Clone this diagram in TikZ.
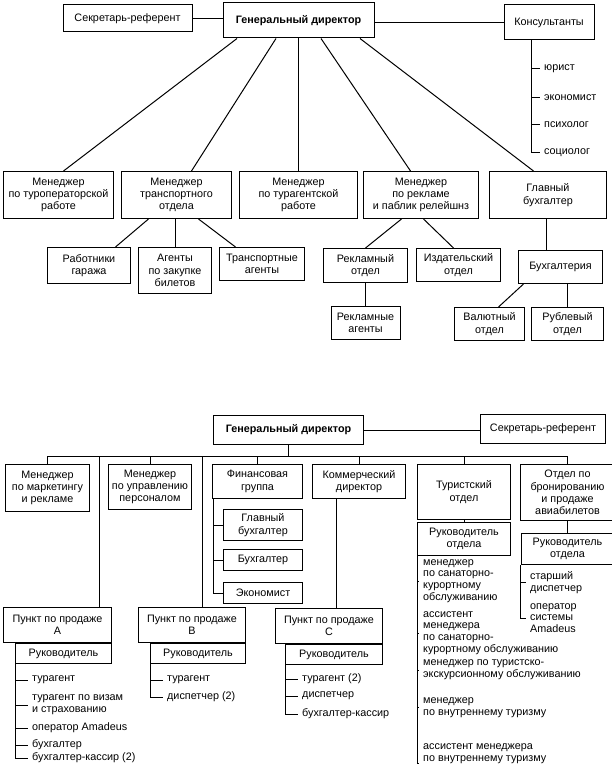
\documentclass[tikz,border=0pt]{standalone}
\usepackage{fontspec}
\setmainfont{Liberation Sans}
\usepackage{tikz}
\usetikzlibrary{positioning}

\begin{document}
\begin{tikzpicture}[x=1pt, y=-1pt,
    box/.style={draw, line width=1pt, align=center, inner sep=1pt, font=\fontsize{10.8}{12.3}\selectfont},
    head/.style={box, font=\fontsize{10.8}{12.3}\selectfont\bfseries},
    item/.style={anchor=west, align=left, inner xsep=4pt, inner ysep=0pt, font=\fontsize{10.8}{11.8}\selectfont},
    link/.style={line width=1pt}]
  \useasboundingbox (0,0) rectangle (611,770);

  \node[head, minimum width=151pt, minimum height=35pt] (gd) at (298.5,20.5) {Генеральный директор};
  \node[box, minimum width=129pt, minimum height=27pt] (sec) at (127.5,18.5) {Секретарь-референт};
  \node[box, minimum width=90pt, minimum height=35pt] (cons) at (549,22.5) {Консультанты};
  \node[item] (cons1) at (540,69) {юрист};
  \node[item] (cons2) at (540,98) {экономист};
  \node[item] (cons3) at (540,125) {психолог};
  \node[item] (cons4) at (540,153) {социолог};
  \coordinate (cl) at ([xshift=-18pt]cons.south);
  \draw[link] (sec.east) -- (sec.east -| gd.west);
  \draw[link] (cons.west) -- (cons.west -| gd.east);
  \draw[link] (cl) |- (cons4.west) (cl |- cons1.west) -- (cons1.west) (cl |- cons2.west) -- (cons2.west) (cl |- cons3.west) -- (cons3.west);

  \node[box, minimum width=110pt, minimum height=47pt, anchor=north west] (m1) at (3,171) {Менеджер\\по туроператорской\\работе};
  \node[box, minimum width=110pt, minimum height=47pt, right=7pt of m1.north east, anchor=north west] (m2) {Менеджер\\транспортного\\отдела};
  \node[box, minimum width=118pt, minimum height=47pt, right=7pt of m2.north east, anchor=north west] (m3) {Менеджер\\по турагентской\\работе};
  \node[box, minimum width=115pt, minimum height=47pt, right=5pt of m3.north east, anchor=north west] (m4) {Менеджер\\по рекламе\\и паблик релейшнз};
  \node[box, minimum width=117pt, minimum height=47pt, right=10pt of m4.north east, anchor=north west] (m5) {Главный\\бухгалтер};
  \draw[link] ([xshift=-61.5pt]gd.south) -- ([xshift=5pt]m1.north);
  \draw[link] ([xshift=-22.5pt]gd.south) -- ([xshift=15pt]m2.north);
  \draw[link] (gd.south) -- (gd.south |- m3.north);
  \draw[link] ([xshift=22.5pt]gd.south) -- ([xshift=-10.5pt]m4.north);
  \draw[link] ([xshift=61.5pt]gd.south) -- ([xshift=-14.5pt]m5.north);

  \node[box, minimum width=83pt, minimum height=36pt, anchor=north west] (garage) at (47,247) {Работники\\гаража};
  \node[box, minimum width=73pt, minimum height=46pt, right=7pt of garage.north east, anchor=north west] (tickets) {Агенты\\по закупке\\билетов};
  \node[box, minimum width=85pt, minimum height=33pt, right=7pt of tickets.north east, anchor=north west] (transp) {Транспортные\\агенты};
  \node[box, minimum width=84pt, minimum height=34pt, anchor=north west] (adv) at (323,248) {Рекламный\\отдел};
  \node[box, minimum width=84pt, minimum height=33pt, right=8pt of adv.north east, anchor=north west] (pub) {Издательский\\отдел};
  \node[box, minimum width=84pt, minimum height=33pt, anchor=north west] (acc) at (518,250) {Бухгалтерия};
  \node[box, minimum width=69pt, minimum height=33pt, below=23pt of adv] (advag) {Рекламные\\агенты};
  \node[box, minimum width=70pt, minimum height=33pt, anchor=north west] (cur) at (454,307) {Валютный\\отдел};
  \node[box, minimum width=72pt, minimum height=33pt, right=6pt of cur.north east, anchor=north west] (rub) {Рублевый\\отдел};
  \coordinate (ml) at ([xshift=-1.5pt]m5.south);
  \coordinate (al) at ([xshift=7pt]acc.south);
  \draw[link] ([xshift=-28pt]m2.south) -- ([xshift=26.5pt]garage.north);
  \draw[link] (tickets.north |- m2.south) -- (tickets.north);
  \draw[link] ([xshift=22pt]m2.south) -- ([xshift=-26.5pt]transp.north);
  \draw[link] ([xshift=-19.5pt]m4.south) -- (adv.north);
  \draw[link] ([xshift=2.5pt]m4.south) -- ([xshift=-5pt]pub.north);
  \draw[link] (ml) -- (ml |- acc.north);
  \draw[link] (adv) -- (advag);
  \draw[link] ([xshift=-37pt]acc.south) -- ([xshift=9pt]cur.north);
  \draw[link] (al) -- (al |- rub.north);

  \node[head, minimum width=150pt, minimum height=29pt, anchor=north west] (gd2) at (213,415) {Генеральный директор};
  \node[box, minimum width=125pt, minimum height=29pt, anchor=north west] (sec2) at (480,414) {Секретарь-референт};
  \draw[link] (gd2.east) -- (gd2.east -| sec2.west);
  \coordinate (bus) at (0,456);

  \node[box, minimum width=84pt, minimum height=47pt, anchor=north west] (mkt) at (5,464) {Менеджер\\по маркетингу\\и рекламе};
  \node[box, minimum width=83pt, minimum height=45pt, right=18pt of mkt.north east, anchor=north west] (hr) {Менеджер\\по управлению\\персоналом};
  \node[box, minimum width=90pt, minimum height=34pt, right=20pt of hr.north east, anchor=north west] (fin) {Финансовая\\группа};
  \node[box, minimum width=93pt, minimum height=34pt, right=9pt of fin.north east, anchor=north west] (com) {Коммерческий\\директор};
  \node[box, minimum width=93pt, minimum height=55pt, right=11pt of com.north east, anchor=north west] (tour) {Туристский\\отдел};
  \node[box, minimum width=94pt, minimum height=56pt, right=9pt of tour.north east, anchor=north west] (avia) {Отдел по\\бронированию\\и продаже\\авиабилетов};
  \draw[link] (gd2.south) -- (gd2.south |- bus);
  \draw[link] (mkt.north |- bus) -- (avia.north |- bus);
  \draw[link] (mkt.north |- bus) -- (mkt.north) (hr.north |- bus) -- (hr.north) (fin.north |- bus) -- (fin.north)
    (com.north |- bus) -- (com.north) (tour.north |- bus) -- (tour.north) (avia.north |- bus) -- (avia.north);

  \node[box, minimum width=79pt, minimum height=31pt, below=10pt of fin.south east, anchor=north east] (fin1) {Главный\\бухгалтер};
  \node[box, minimum width=79pt, minimum height=21pt, below=8pt of fin1] (fin2) {Бухгалтер};
  \node[box, minimum width=79pt, minimum height=21pt, below=11pt of fin2] (fin3) {Экономист};
  \coordinate (fl) at ([xshift=1pt]fin.south west);
  \draw[link] (fl) |- (fin3.west) (fl |- fin1.west) -- (fin1.west) (fl |- fin2.west) -- (fin2.west);

  \node[box, minimum width=108pt, minimum height=35pt, anchor=north west] (pa) at (3,607) {Пункт по продаже\\А};
  \node[box, minimum width=96pt, minimum height=20pt, below=0pt of pa.south east, anchor=north east] (heada) {Руководитель};
  \node[box, minimum width=107pt, minimum height=35pt, anchor=north west] (pb) at (138,607) {Пункт по продаже\\В};
  \node[box, minimum width=95pt, minimum height=20pt, below=0pt of pb.south east, anchor=north east] (headb) {Руководитель};
  \node[box, minimum width=107pt, minimum height=35pt, anchor=north west] (pc) at (275,608) {Пункт по продаже\\С};
  \node[box, minimum width=97pt, minimum height=20pt, below=0pt of pc.south east, anchor=north east] (headc) {Руководитель};
  \coordinate (la) at ([xshift=-13pt]pa.north east);
  \coordinate (lb) at ([xshift=10.5pt]pb.north);
  \coordinate (lc) at ([xshift=-22.5pt]com.south);
  \draw[link] (la |- bus) -- (la);
  \draw[link] (lb |- bus) -- (lb);
  \draw[link] (lc) -- (lc |- pc.north);

  \node[item] (a1) at (28,680) {турагент};
  \node[item] (a2) at (28,705) {турагент по визам\\и страхованию};
  \node[item] (a3) at (28,728) {оператор Amadeus};
  \node[item] (a4) at (28,745) {бухгалтер};
  \node[item] (a5) at (28,758) {бухгалтер-кассир (2)};
  \draw[link] (heada.south west) |- (a5.west) (heada.south west |- a1.west) -- (a1.west) (heada.south west |- a2.west) -- (a2.west)
    (heada.south west |- a3.west) -- (a3.west) (heada.south west |- a4.west) -- (a4.west);

  \node[item] (b1) at (163,680) {турагент};
  \node[item] (b2) at (163,697) {диспетчер (2)};
  \draw[link] (headb.south west) |- (b2.west) (headb.south west |- b1.west) -- (b1.west);

  \node[item] (c1) at (298,679) {турагент (2)};
  \node[item] (c2) at (298,696) {диспетчер};
  \node[item] (c3) at (298,714) {бухгалтер-кассир};
  \draw[link] (headc.south west) |- (c3.west) (headc.south west |- c1.west) -- (c1.west) (headc.south west |- c2.west) -- (c2.west);

  \node[box, minimum width=93pt, minimum height=33pt, below=2pt of tour] (headt) {Руководитель\\отдела};
  \draw[link] (tour) -- (headt);
  \node[item] (t1) at (419,581) {менеджер\\по санаторно-\\курортному\\обслуживанию};
  \node[item] (t2) at (419,633) {ассистент\\менеджера\\по санаторно-\\курортному обслуживанию};
  \node[item] (t3) at (419,670) {менеджер по туристско-\\экскурсионному обслуживанию};
  \node[item] (t4) at (419,707.5) {менеджер\\по внутреннему туризму};
  \node[item] (t5) at (419,753.5) {ассистент менеджера\\по внутреннему туризму};
  \draw[link] (headt.south west) |- (t5.south west) (headt.south west |- t1.west) -- (t1.west) (headt.south west |- t2.west) -- (t2.west)
    (headt.south west |- t3.west) -- (t3.west) (headt.south west |- t4.west) -- (t4.west);

  \node[box, minimum width=93pt, minimum height=31pt, below=12pt of avia] (heads) {Руководитель\\отдела};
  \draw[link] (avia) -- (heads);
  \node[item] (s1) at (526,582.5) {старший\\диспетчер};
  \node[item] (s2) at (526,618) {оператор\\системы\\Amadeus};
  \draw[link] (heads.south west) |- (s2.west) (heads.south west |- s1.west) -- (s1.west);
\end{tikzpicture}
\end{document}
